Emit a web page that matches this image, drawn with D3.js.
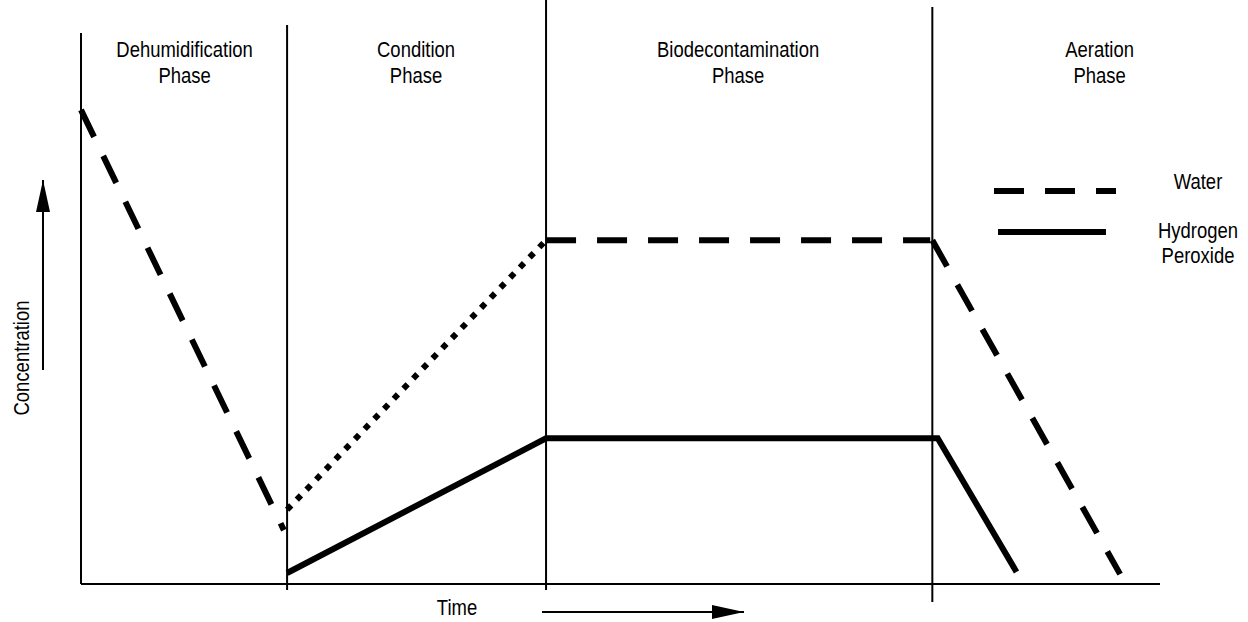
<!DOCTYPE html>
<html>
<head>
<meta charset="utf-8">
<script src="https://cdn.jsdelivr.net/npm/d3@7"></script>
<style>
  body { margin: 0; background: #fff; }
  text { font-family: "Liberation Sans", Arial, sans-serif; font-size: 22px; fill: #000; }
</style>
</head>
<body>
<svg id="chart" width="1248" height="622"></svg>
<script>
// time runs 0..100, concentration 0..100 (arbitrary units)
const phaseNames = [["Dehumidification", "Phase"], ["Condition", "Phase"], ["Biodecontamination", "Phase"], ["Aeration", "Phase"]];
const phaseLabelAt = [9.6, 31.05, 60.9, 94.4];
const phaseBounds = [19.1, 43.1, 78.9];

// water: one line per phase, each drawn in its own style
const waterDehum = [[0, 86.2], [18.8, 9.8]];
const waterCondition = [[19.1, 13.5], [43.1, 62.5]];
const waterBiodecon = [[43.1, 62.5], [78.7, 62.5]];
const waterAeration = [[78.9, 62.5], [96.3, 1.8]];

const peroxide = [[19.1, 2.0], [43.1, 26.5], [79.4, 26.5], [86.7, 2.2]];

const legendItems = [["Water"], ["Hydrogen", "Peroxide"]];

const svg = d3.select('#chart');
const x = d3.scaleLinear().domain([0, 100]).range([81, 1160]);
const y = d3.scaleLinear().domain([0, 100]).range([584, 34]);

const line = d3.line().x(d => x(d[0])).y(d => y(d[1]));

// condensed type, like the original's narrow face
const NARROW = 0.84;
function label(str, cx, cy, rotate) {
  return svg.append('text')
    .attr('transform', `translate(${cx},${cy})${rotate ? ` rotate(${rotate})` : ''} scale(${NARROW},1)`)
    .attr('text-anchor', 'middle')
    .text(str);
}

const defs = svg.append('defs');
defs.append('marker')
  .attr('id', 'head')
  .attr('viewBox', '0 0 32 14')
  .attr('refX', 32).attr('refY', 7)
  .attr('markerWidth', 32).attr('markerHeight', 14)
  .attr('markerUnits', 'userSpaceOnUse')
  .attr('orient', 'auto')
  .append('path').attr('d', 'M0,0 L32,7 L0,14 Z').attr('fill', '#000');

// axes frame
svg.append('line')
  .attr('x1', x(0)).attr('x2', x(0))
  .attr('y1', 33).attr('y2', y(0))
  .attr('stroke', '#000').attr('stroke-width', 2);
svg.append('line')
  .attr('x1', x(0)).attr('x2', x(100))
  .attr('y1', y(0)).attr('y2', y(0))
  .attr('stroke', '#000').attr('stroke-width', 2);

// phase dividers
const dividerTop = [25, 0, 7];
const dividerBottom = [590, 590, 602];
svg.selectAll('line.divider')
  .data(phaseBounds)
  .enter().append('line')
  .attr('class', 'divider')
  .attr('x1', d => x(d)).attr('x2', d => x(d))
  .attr('y1', (d, i) => dividerTop[i]).attr('y2', (d, i) => dividerBottom[i])
  .attr('stroke', '#000').attr('stroke-width', 2);

// phase labels
phaseNames.forEach((lines, i) => {
  lines.forEach((s, j) => label(s, x(phaseLabelAt[i]), 57 + j * 26));
});

// series
const dash = '30,21';
const drawSeg = (data, dasharray) => svg.append('path')
  .attr('d', line(data))
  .attr('fill', 'none')
  .attr('stroke', '#000')
  .attr('stroke-width', 6)
  .attr('stroke-dasharray', dasharray)
  .attr('stroke-linecap', 'butt');

drawSeg(waterDehum, dash);
drawSeg(waterCondition, '6,8');
drawSeg(waterBiodecon, dash);
drawSeg(waterAeration, dash);
drawSeg(peroxide, null).attr('stroke-linejoin', 'miter');

// legend
svg.append('line')
  .attr('x1', 994).attr('x2', 1116).attr('y1', 191).attr('y2', 191)
  .attr('stroke', '#000').attr('stroke-width', 6).attr('stroke-dasharray', dash);
svg.append('line')
  .attr('x1', 998).attr('x2', 1106).attr('y1', 232).attr('y2', 232)
  .attr('stroke', '#000').attr('stroke-width', 6);
const legendY = [189, 238];
legendItems.forEach((lines, i) => {
  lines.forEach((s, j) => label(s, 1198, legendY[i] + j * 25));
});

// axis titles with arrows
label('Concentration', 29, 358, -90);
svg.append('line')
  .attr('x1', 43).attr('x2', 43).attr('y1', 370).attr('y2', 180)
  .attr('stroke', '#000').attr('stroke-width', 2)
  .attr('marker-end', 'url(#head)');

label('Time', 457, 615);
svg.append('line')
  .attr('x1', 542).attr('x2', 744).attr('y1', 612).attr('y2', 612)
  .attr('stroke', '#000').attr('stroke-width', 2)
  .attr('marker-end', 'url(#head)');
</script>
</body>
</html>
